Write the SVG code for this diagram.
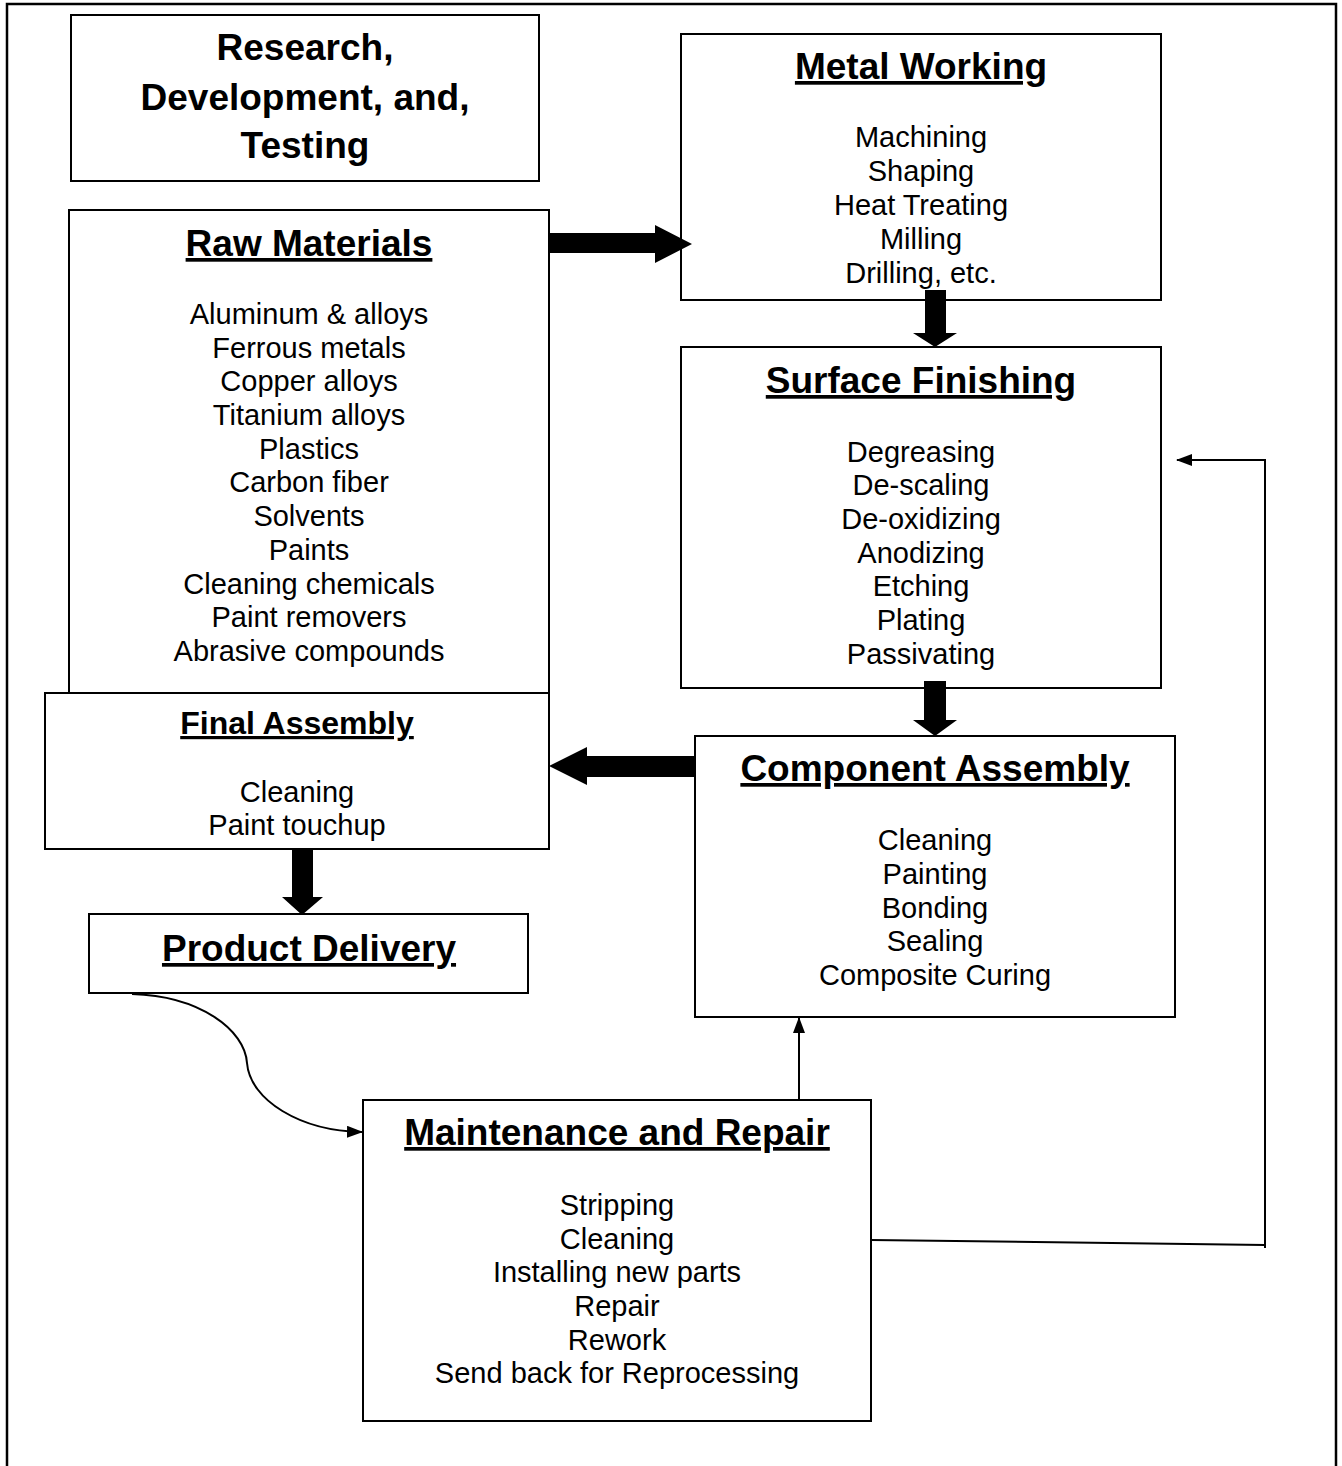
<svg xmlns="http://www.w3.org/2000/svg" width="1342" height="1466" viewBox="0 0 1342 1466">
<style>
.box{fill:#fff;stroke:#000;stroke-width:2}
.t{font-family:"Liberation Sans",Arial,sans-serif;font-weight:bold;font-size:37px;text-anchor:middle;text-decoration:underline;fill:#000}
.b{font-family:"Liberation Sans",Arial,sans-serif;font-size:29px;text-anchor:middle;fill:#000}
.line{fill:none;stroke:#000;stroke-width:2}
.fat{fill:#000;stroke:none}
</style>
<defs>
<marker id="ah" markerWidth="16" markerHeight="12" refX="15" refY="6" orient="auto" markerUnits="userSpaceOnUse">
<path d="M0,0 L16,6 L0,12 Z" fill="#000"/>
</marker>
</defs>
<rect width="1342" height="1466" fill="#fff"/>
<path d="M7,1470 V4 H1336 V1470" fill="none" stroke="#000" stroke-width="2.5"/>

<g id="rd">
<rect class="box" x="71" y="15" width="468" height="166"/>
<text class="t" style="text-decoration:none" x="305" y="60">Research,</text>
<text class="t" style="text-decoration:none" x="305" y="110">Development, and,</text>
<text class="t" style="text-decoration:none" x="305" y="158">Testing</text>
</g>

<g id="metal">
<rect class="box" x="681" y="34" width="480" height="266"/>
<text class="t" x="921" y="79">Metal Working</text>
<text class="b" x="921" y="147">Machining</text>
<text class="b" x="921" y="181">Shaping</text>
<text class="b" x="921" y="215">Heat Treating</text>
<text class="b" x="921" y="249">Milling</text>
<text class="b" x="921" y="283">Drilling, etc.</text>
</g>

<g id="raw">
<rect class="box" x="69" y="210" width="480" height="483"/>
<text class="t" x="309" y="256">Raw Materials</text>
<text class="b" x="309" y="324">Aluminum &amp; alloys</text>
<text class="b" x="309" y="358">Ferrous metals</text>
<text class="b" x="309" y="391">Copper alloys</text>
<text class="b" x="309" y="425">Titanium alloys</text>
<text class="b" x="309" y="459">Plastics</text>
<text class="b" x="309" y="492">Carbon fiber</text>
<text class="b" x="309" y="526">Solvents</text>
<text class="b" x="309" y="560">Paints</text>
<text class="b" x="309" y="594">Cleaning chemicals</text>
<text class="b" x="309" y="627">Paint removers</text>
<text class="b" x="309" y="661">Abrasive compounds</text>
</g>

<g id="surface">
<rect class="box" x="681" y="347" width="480" height="341"/>
<text class="t" x="921" y="393">Surface Finishing</text>
<text class="b" x="921" y="462">Degreasing</text>
<text class="b" x="921" y="495">De-scaling</text>
<text class="b" x="921" y="529">De-oxidizing</text>
<text class="b" x="921" y="563">Anodizing</text>
<text class="b" x="921" y="596">Etching</text>
<text class="b" x="921" y="630">Plating</text>
<text class="b" x="921" y="664">Passivating</text>
</g>

<g id="final">
<rect class="box" x="45" y="693" width="504" height="156"/>
<text class="t" style="font-size:32px" x="297" y="734">Final Assembly</text>
<text class="b" x="297" y="802">Cleaning</text>
<text class="b" x="297" y="835">Paint touchup</text>
</g>

<g id="component">
<rect class="box" x="695" y="736" width="480" height="281"/>
<text class="t" x="935" y="781">Component Assembly</text>
<text class="b" x="935" y="850">Cleaning</text>
<text class="b" x="935" y="884">Painting</text>
<text class="b" x="935" y="918">Bonding</text>
<text class="b" x="935" y="951">Sealing</text>
<text class="b" x="935" y="985">Composite Curing</text>
</g>

<g id="delivery">
<rect class="box" x="89" y="914" width="439" height="79"/>
<text class="t" x="309" y="961">Product Delivery</text>
</g>

<g id="maintenance">
<rect class="box" x="363" y="1100" width="508" height="321"/>
<text class="t" x="617" y="1145">Maintenance and Repair</text>
<text class="b" x="617" y="1215">Stripping</text>
<text class="b" x="617" y="1249">Cleaning</text>
<text class="b" x="617" y="1282">Installing new parts</text>
<text class="b" x="617" y="1316">Repair</text>
<text class="b" x="617" y="1350">Rework</text>
<text class="b" x="617" y="1383">Send back for Reprocessing</text>
</g>

<g id="connectors">
<polygon class="fat" points="549,233 655,233 655,225 692,244 655,263 655,253 549,253"/>
<polygon class="fat" points="925,290 946,290 946,333 957,333 935,347 913,333 925,333"/>
<polygon class="fat" points="924,681 946,681 946,720 957,720 935,736 913,720 924,720"/>
<polygon class="fat" points="695,756 587,756 587,747 549,766 587,785 587,777 695,777"/>
<polygon class="fat" points="292,849 313,849 313,897 323,897 302,915 282,897 292,897"/>
<path class="line" d="M132,994 C200,996 245,1030 247,1063 C250,1100 300,1131 362,1132" marker-end="url(#ah)"/>
<path class="line" d="M799,1100 V1018" marker-end="url(#ah)"/>
<path class="line" d="M871,1240 L1265,1245 M1265,1248 V460 H1177" marker-end="url(#ah)"/>
</g>
</svg>
